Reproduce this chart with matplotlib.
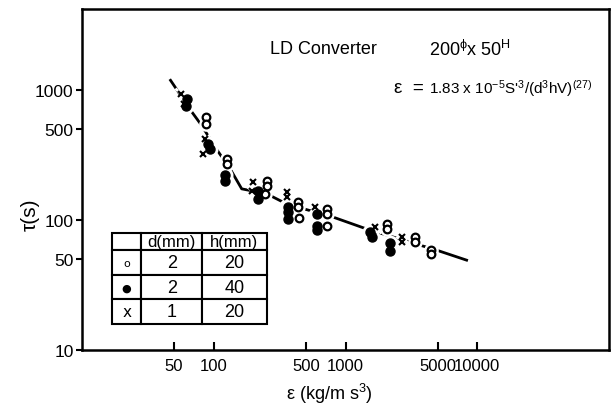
import matplotlib
matplotlib.use("Agg")
import matplotlib.pyplot as plt
from matplotlib.ticker import NullLocator

plt.rcParams["font.family"] = ["Liberation Sans", "DejaVu Sans"]
plt.rcParams["mathtext.fontset"] = "custom"
plt.rcParams["mathtext.rm"] = "Liberation Sans"
plt.rcParams["mathtext.it"] = "Liberation Sans"

# fitted curve
eps_line = [47, 68, 81, 102, 115, 133, 163, 195, 267, 335, 475, 804, 1450, 5040, 8300]
tau_line = [1180, 677, 531, 364, 305, 247, 173, 167, 154, 137, 122, 105, 85, 58, 49]

# o : d = 2 mm, h = 20 mm
eps_open = [88, 88, 125, 125, 252, 252, 245, 436, 436, 444, 719, 719, 719, 2056, 2056, 3365, 3365, 4456, 4456]
tau_open = [620, 547, 294, 270, 200, 183, 158, 137, 126, 104, 122, 111, 90, 93, 85, 74, 68, 59, 55]

# filled : d = 2 mm, h = 40 mm
eps_fill = [63, 62, 90, 94, 122, 122, 217, 217, 366, 366, 366, 604, 604, 604, 1535, 1590, 2178, 2178]
tau_fill = [853, 753, 384, 352, 222, 200, 167, 145, 126, 115, 102, 111, 90, 84, 81, 74, 66, 58]

# x : d = 1 mm, h = 20 mm
eps_cross = [56, 59, 86, 83, 199, 195, 360, 360, 587, 1675, 1618, 2685, 2685]
tau_cross = [931, 780, 420, 322, 196, 167, 164, 150, 126, 88, 75, 74, 68]

x_ticks = [50, 100, 500, 1000, 5000, 10000]
y_ticks = [10, 50, 100, 500, 1000]

table_rows = [["", "d(mm)", "h(mm)"],
              ["o", "2", "20"],
              ["\u25cf", "2", "40"],
              ["x", "1", "20"]]

fig = plt.figure(figsize=(6.15, 4.06), dpi=100)
ax = fig.add_axes([0.1333, 0.1355, 0.8570, 0.8399])
ax.set_xscale("log")
ax.set_yscale("log")
ax.set_xlim(10, 1e5)
ax.set_ylim(10, 10 ** 3.62)

ax.plot(eps_line, tau_line, color="black", lw=2, zorder=2)

# white halos give the gaps in the curve around the points
for xs, ys, m, ms in [(eps_open, tau_open, "o", 5.5), (eps_fill, tau_fill, "o", 6.5),
                      (eps_cross, tau_cross, "x", 5)]:
    ax.plot(xs, ys, ls="none", marker=m, ms=ms + 3, color="white", mec="white", mew=2, zorder=3)
ax.plot(eps_open, tau_open, ls="none", marker="o", ms=5.5, mfc="white", mec="black", mew=1.6, zorder=4)
ax.plot(eps_fill, tau_fill, ls="none", marker="o", ms=6.5, color="black", zorder=4)
ax.plot(eps_cross, tau_cross, ls="none", marker="x", ms=5, color="black", mew=1.5, zorder=4)

ax.set_xticks(x_ticks)
ax.set_xticklabels([str(v) for v in x_ticks])
ax.set_yticks(y_ticks)
ax.set_yticklabels([str(v) for v in y_ticks])
ax.xaxis.set_minor_locator(NullLocator())
ax.yaxis.set_minor_locator(NullLocator())
ax.tick_params(axis="x", direction="in", length=6, width=1.5, pad=6, labelsize=12)
ax.tick_params(axis="y", direction="out", length=4, width=1.5, pad=2, labelsize=12.5)
for s in ax.spines.values():
    s.set_linewidth(1.8)

ax.set_xlabel("\u03b5 (kg/m s$^3$)", fontsize=13)
ax.xaxis.set_label_coords(0.469, -0.092)
ax.set_ylabel("\u03c4(s)", fontsize=15)
ax.yaxis.set_label_coords(-0.08, 0.40)

ax.text(0.357, 0.883, "LD Converter", transform=ax.transAxes, fontsize=13, va="center")
ax.text(0.658, 0.883, "200$^{\\phi}$x 50$^{\\mathrm{H}}$", transform=ax.transAxes, fontsize=13, va="center")
ax.text(0.648, 0.771, "\u03b5  =", transform=ax.transAxes, fontsize=13.5, va="center", ha="right")
ax.text(0.658, 0.771, "1.83 x 10$^{-5}$S$'^{3}$/(d$^{3}$hV)$^{(27)}$",
        transform=ax.transAxes, fontsize=11, va="center")

tab = ax.table(cellText=table_rows, colWidths=[0.19, 0.39, 0.42], cellLoc="center",
               bbox=[0.057, 0.076, 0.294, 0.267])
tab.auto_set_font_size(False)
for (r, c), cell in tab.get_celld().items():
    cell.set_linewidth(1.5)
    cell.set_height(0.7 if r == 0 else 1.0)
    cell.get_text().set_fontsize(12 if r == 0 else 13)
    if c == 0 and r > 0:
        cell.get_text().set_fontsize([0, 8, 8, 11][r])
        cell.get_text().set_family("DejaVu Sans")
tab.set_zorder(5)

fig.savefig("out.png", dpi=100)
